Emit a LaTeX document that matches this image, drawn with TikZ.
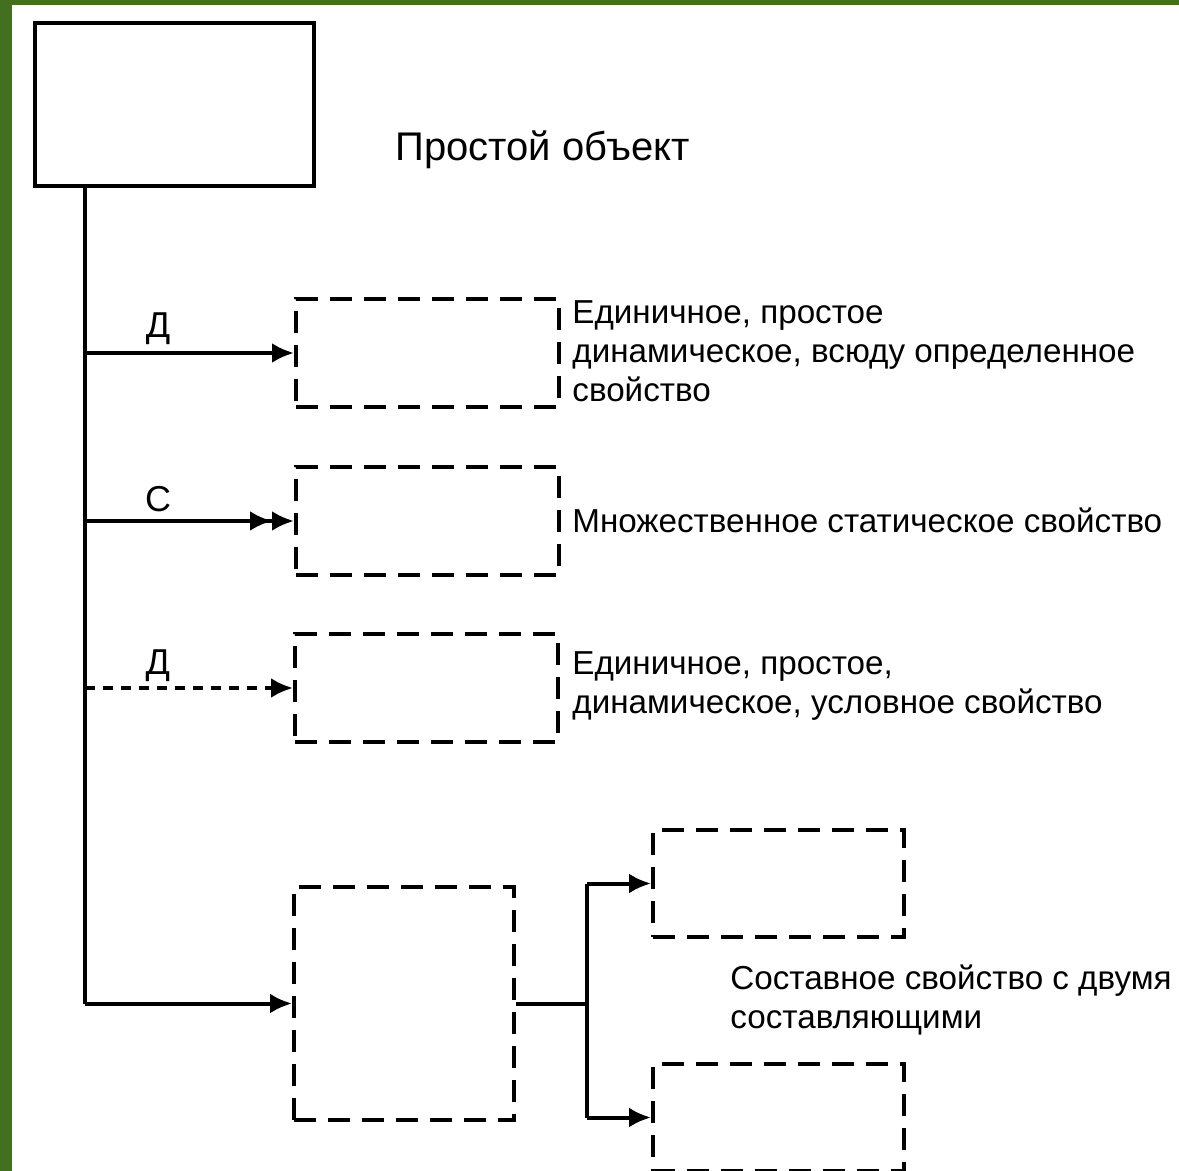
\documentclass[tikz,border=0pt]{standalone}
\usepackage{fontspec}
\setmainfont{Liberation Sans}
\usetikzlibrary{arrows.meta,positioning}
\tikzset{>={Latex[length=11pt,width=10pt]}}
\definecolor{leaf}{RGB}{66,112,30}
\tikzstyle{every node}=[font=\fontsize{16.6}{19.5}\selectfont]
\tikzstyle{object}=[draw,line width=2.2pt,anchor=north west,minimum width=139.5pt,minimum height=81.5pt]
\tikzstyle{prop}=[draw,line width=2pt,dash pattern=on 11pt off 6pt,anchor=north west,minimum width=131.5pt,minimum height=54pt]
\tikzstyle{note}=[anchor=west,align=left,inner sep=0pt]
\tikzstyle{mark label}=[font=\fontsize{18}{20}\selectfont,pos=0.35]
\tikzstyle{link}=[line width=2pt]

\begin{document}
\begin{tikzpicture}[x=0.5pt,y=-0.5pt]
	\useasboundingbox (0,0) rectangle (1179,1171);
	\fill[leaf] (0,0) rectangle (12,1171);
	\fill[leaf] (0,0) rectangle (1179,5);

		\node[object] (obj) at (33,21) {};
		\node[note,font=\fontsize{20}{24}\selectfont] (objtxt) at (395,150) {Простой объект};

		% simple properties
		\node[prop] (p1) at (294,297) {};
		\node[prop] (p2) at (294,465) {};
		\node[prop] (p3) at (293,632) {};
		\node[note] (p1txt) at (572,351) {Единичное, простое\\динамическое, всюду определенное\\свойство};
		\node[note] (p2txt) at (572,520) {Множественное статическое свойство};
		\node[note] (p3txt) at (572,686) {Единичное, простое,\\динамическое, условное свойство};

		% composite property
		\node[prop,minimum width=110pt,minimum height=116.5pt] (comp) at (292,885) {};
		\node[prop,minimum width=125.5pt,minimum height=53.5pt] (sub1) at (651,828) {};
		\node[prop,minimum width=125.5pt,minimum height=53.5pt] (sub2) at (651,1062) {};
		\node[note] (comptxt) at (730,1000) {Составное свойство с двумя\\составляющими};

		\coordinate (trunk) at (85,184);
		\draw[link] (trunk) -- (trunk |- comp.west);
		\draw[link,->] (trunk |- p1.west) -- node[mark label,above=0pt] {Д} (p1.west);
		\draw[link,->>] (trunk |- p2.west) -- node[mark label,above=0pt] {С} (p2.west);
		\draw[link,->,dash pattern=on 5pt off 4pt] (trunk |- p3.west) -- node[mark label,above=-1pt] {Д} (p3.west);
		\draw[link,->] (trunk |- comp.west) -- (comp.west);

		\draw[link] (comp.east) -- ++(71,0) coordinate (fork);
		\draw[link] (fork |- sub1.west) -- (fork |- sub2.west);
		\draw[link,->] (fork |- sub1.west) -- (sub1.west);
		\draw[link,->] (fork |- sub2.west) -- (sub2.west);
	\end{tikzpicture}
\end{document}
